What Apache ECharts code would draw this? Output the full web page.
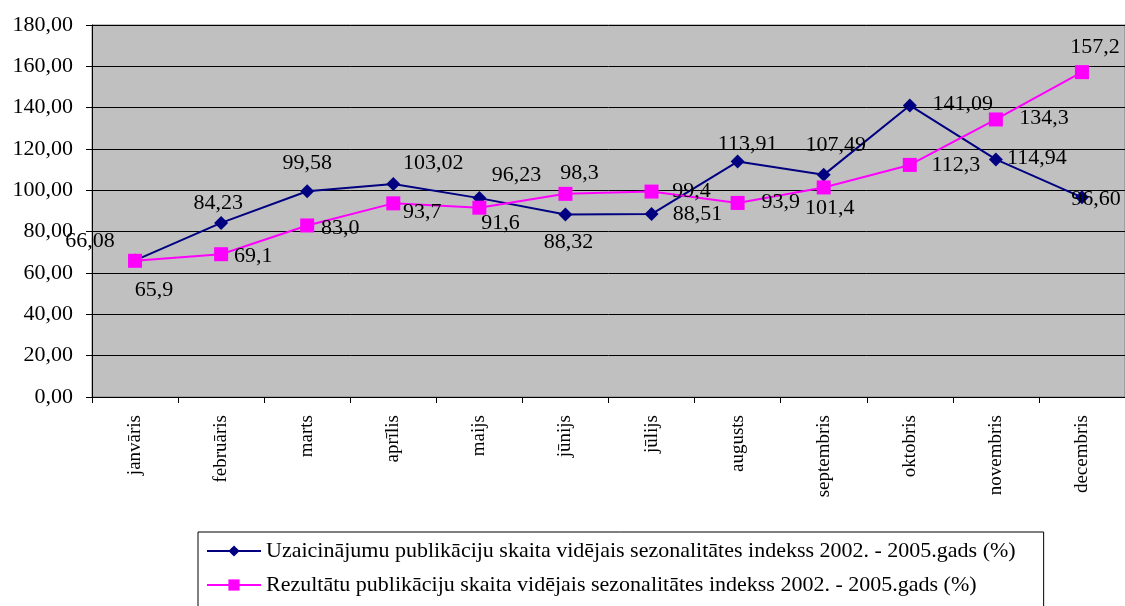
<!DOCTYPE html>
<html lang="lv">
<head>
<meta charset="UTF-8">
<title>Sezonalitātes indekss</title>
<script src="https://cdn.jsdelivr.net/npm/echarts@6/dist/echarts.min.js"></script>
<style>
  html, body { margin: 0; padding: 0; background: #fff; }
</style>
</head>
<body>
<div id="main" style="width:1125px;height:606px;"></div>
<script>
// months
const months = ['janvāris', 'februāris', 'marts', 'aprīlis', 'maijs', 'jūnijs',
  'jūlijs', 'augusts', 'septembris', 'oktobris', 'novembris', 'decembris'];

// Uzaicinājumu publikāciju indekss
const invitations = [66.08, 84.23, 99.58, 103.02, 96.23, 88.32, 88.51, 113.91, 107.49, 141.09, 114.94, 96.60];
// Rezultātu publikāciju indekss
const results = [65.9, 69.1, 83.0, 93.7, 91.6, 98.3, 99.4, 93.9, 101.4, 112.3, 134.3, 157.2];

const seriesNames = [
  'Uzaicinājumu publikāciju skaita vidējais sezonalitātes indekss 2002. - 2005.gads (%)',
  'Rezultātu publikāciju skaita vidējais sezonalitātes indekss 2002. - 2005.gads (%)'
];

// label offsets from the marker (styling only)
const invOffsets = [[-45, -19], [-3, -20], [0, -28], [40, -21], [37, -23], [3, 28],
  [46, 0], [10, -17], [12, -30], [53, -1], [41, -1], [14, 2]];
const resOffsets = [[19, 29], [32, 2], [33, 3], [29, 9], [21, 16], [14, -21],
  [40, 0], [43, -1], [6, 21], [46, 0], [48, -1], [13, -25]];

const fmt = (v, d) => v.toFixed(d).replace('.', ',');
const font = 'Liberation Serif';

function points(values, offsets, decimals) {
  return values.map((v, i) => ({
    value: v,
    label: {
      show: true,
      position: 'inside',
      offset: offsets[i],
      formatter: fmt(v, decimals)
    }
  }));
}

const chart = echarts.init(document.getElementById('main'));
chart.setOption({
  animation: false,
  textStyle: { fontFamily: font },
  grid: { left: 92, top: 25, width: 1038, height: 372, show: true,
    backgroundColor: '#c0c0c0', borderColor: '#808080', borderWidth: 1 },
  legend: {
    orient: 'vertical', left: 198, top: 532, height: 120,
    backgroundColor: '#fff', borderColor: '#000', borderWidth: 1,
    padding: [8, 28, 30, 8], itemGap: 12, itemWidth: 54, itemHeight: 14,
    textStyle: { fontFamily: font, fontSize: 22, color: '#000' },
    data: seriesNames
  },
  xAxis: {
    type: 'category', data: months, boundaryGap: true,
    axisLine: { lineStyle: { color: '#000', width: 1 } },
    axisTick: { show: true, length: 6, lineStyle: { color: '#000' } },
    axisLabel: { rotate: 90, margin: 18, fontFamily: font, fontSize: 19, color: '#000', interval: 0 }
  },
  yAxis: {
    type: 'value', min: 0, max: 180, interval: 20,
    axisLine: { show: true, lineStyle: { color: '#000', width: 1 } },
    axisTick: { show: true, length: 6, lineStyle: { color: '#000' } },
    axisLabel: { margin: 19, fontFamily: font, fontSize: 22, color: '#000',
      formatter: v => fmt(v, 2) },
    splitLine: { show: true, lineStyle: { color: '#000', width: 1 } }
  },
  series: [
    {
      name: seriesNames[0], type: 'line', data: points(invitations, invOffsets, 2),
      symbol: 'diamond', symbolSize: 14,
      lineStyle: { color: '#000080', width: 2 },
      itemStyle: { color: '#000080' },
      label: { fontFamily: font, fontSize: 22, color: '#000' },
      z: 2
    },
    {
      name: seriesNames[1], type: 'line', data: points(results, resOffsets, 1),
      symbol: 'rect', symbolSize: 14,
      lineStyle: { color: '#ff00ff', width: 2 },
      itemStyle: { color: '#ff00ff' },
      label: { fontFamily: font, fontSize: 22, color: '#000' },
      z: 3
    }
  ]
});
</script>
</body>
</html>
